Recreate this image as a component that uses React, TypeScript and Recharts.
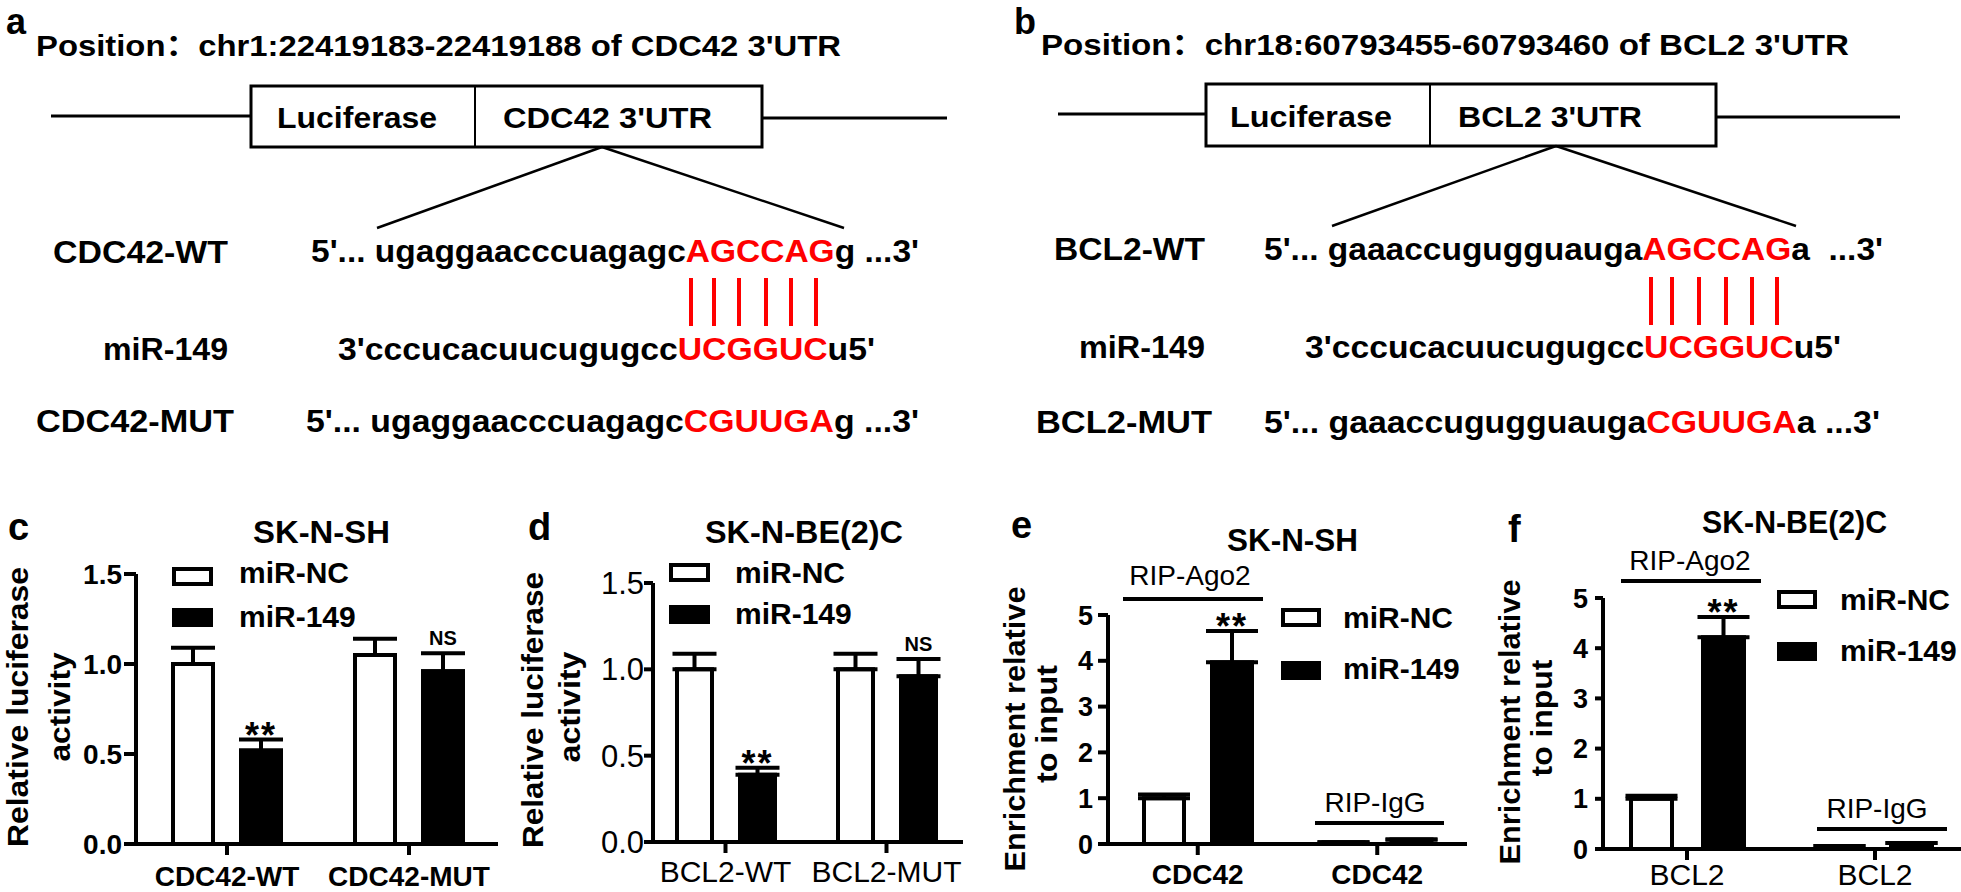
import React from "react";
import { BarChart, Bar, XAxis, YAxis, ErrorBar, LabelList } from "recharts";

const FONT = "'Liberation Sans', Arial, Helvetica, sans-serif";

// c: luciferase reporter, SK-N-SH
const cGroups = ["CDC42-WT", "CDC42-MUT"];
const cLabels = ["CDC42-WT", "CDC42-MUT"];
const cNC = [1.0, 1.05];
const cNCErr = [0.09, 0.09];
const cMiR = [0.52, 0.96];
const cMiRErr = [0.06, 0.1];
const cSig = ["**", "NS"];

// d: luciferase reporter, SK-N-BE(2)C
const dGroups = ["BCL2-WT", "BCL2-MUT"];
const dLabels = ["BCL2-WT", "BCL2-MUT"];
const dNC = [1.0, 1.0];
const dNCErr = [0.09, 0.09];
const dMiR = [0.39, 0.96];
const dMiRErr = [0.04, 0.1];
const dSig = ["**", "NS"];

// e: RIP, SK-N-SH
const eGroups = ["RIP-Ago2", "RIP-IgG"];
const eLabels = ["CDC42", "CDC42"];
const eNC = [1.0, 0.04];
const eNCErr = [0.08, 0];
const eMiR = [3.97, 0.1];
const eMiRErr = [0.68, 0];
const eSig = ["**", ""];

// f: RIP, SK-N-BE(2)C
const fGroups = ["RIP-Ago2", "RIP-IgG"];
const fLabels = ["BCL2", "BCL2"];
const fNC = [1.0, 0.06];
const fNCErr = [0.06, 0];
const fMiR = [4.22, 0.12];
const fMiRErr = [0.4, 0];
const fSig = ["**", ""];

const lucTicks = [0, 0.5, 1, 1.5];
const ripTicks = [0, 1, 2, 3, 4, 5];

const YW = 90;
const MT = 30;
const XH = 48;

type Fnt = { size: number; weight: number };

type PanelProps = {
  groups: string[];
  labels: string[];
  nc: number[];
  ncErr: number[];
  mir: number[];
  mirErr: number[];
  sig: string[];
  ticks: number[];
  decimals: number;
  plot: { x: number; y: number; w: number; h: number };
  mr: number;
  barSize: number;
  barGap: number;
  capW: number;
  padL: number;
  padR: number;
  yFont: Fnt;
  xFont: Fnt;
  yTick: number;
  yMargin: number;
  xMargin: number;
};

function Panel(p: PanelProps) {
  const rows = p.groups.map((g, i) => ({
    group: g,
    nc: p.nc[i],
    ncE: [0, p.ncErr[i]],
    mir: p.mir[i],
    mirE: [0, p.mirErr[i]],
    sig: p.sig[i],
  }));

  const renderSig = (props: any) => {
    const vb = props.viewBox && props.viewBox.width !== undefined ? props.viewBox : props;
    const { x, y, width, height } = vb;
    const i = props.index;
    const v = props.value;
    if (!v || i === undefined) return null;
    const per = Math.abs(height) / p.mir[i];
    const top = y - p.mirErr[i] * per;
    const star = v === "**";
    return (
      <text
        x={x + width / 2}
        y={star ? top + 8 : top - 8}
        textAnchor="middle"
        fontSize={star ? 36 : 20}
        fontWeight={700}
        fontFamily={FONT}
        letterSpacing={star ? 2 : 0}
        fill="#000"
      >
        {v}
      </text>
    );
  };

  const w = YW + p.plot.w + p.mr;
  const h = MT + p.plot.h + XH;
  return (
    <div style={{ position: "absolute", left: p.plot.x - YW, top: p.plot.y - MT, width: w, height: h }}>
      <BarChart
        width={w}
        height={h}
        data={rows}
        margin={{ top: MT, right: p.mr, left: 0, bottom: 0 }}
        barGap={p.barGap}
        barCategoryGap={0}
      >
        <XAxis
          dataKey="group"
          interval={0}
          height={XH}
          tickFormatter={(_v: any, i: number) => p.labels[i]}
          tick={{ fill: "#000", fontSize: p.xFont.size, fontWeight: p.xFont.weight, fontFamily: FONT }}
          tickSize={11}
          tickMargin={p.xMargin}
          axisLine={{ stroke: "#000", strokeWidth: 4 }}
          tickLine={{ stroke: "#000", strokeWidth: 4 }}
          padding={{ left: p.padL, right: p.padR }}
        />
        <YAxis
          type="number"
          width={YW}
          domain={[0, p.ticks[p.ticks.length - 1]]}
          ticks={p.ticks}
          interval={0}
          tickFormatter={(v: number) => v.toFixed(p.decimals)}
          tick={{ fill: "#000", fontSize: p.yFont.size, fontWeight: p.yFont.weight, fontFamily: FONT }}
          tickSize={p.yTick}
          tickMargin={p.yMargin}
          axisLine={{ stroke: "#000", strokeWidth: 4 }}
          tickLine={{ stroke: "#000", strokeWidth: 4 }}
        />
        <Bar dataKey="nc" fill="#fff" stroke="#000" strokeWidth={4} barSize={p.barSize} isAnimationActive={false}>
          <ErrorBar dataKey="ncE" width={p.capW} stroke="#000" strokeWidth={4} direction="y" />
        </Bar>
        <Bar dataKey="mir" fill="#000" stroke="#000" strokeWidth={4} barSize={p.barSize} isAnimationActive={false}>
          <ErrorBar dataKey="mirE" width={p.capW} stroke="#000" strokeWidth={4} direction="y" />
          <LabelList dataKey="sig" content={renderSig} />
        </Bar>
      </BarChart>
    </div>
  );
}

type TProps = {
  x: number;
  y: number;
  len?: number;
  size: number;
  weight?: number;
  anchor?: "start" | "middle" | "end";
  rotate?: boolean;
  children: React.ReactNode;
};

function T({ x, y, len, size, weight = 700, anchor = "start", rotate, children }: TProps) {
  return (
    <text
      x={x}
      y={y}
      fontSize={size}
      fontWeight={weight}
      fontFamily={FONT}
      textAnchor={anchor}
      textLength={len}
      lengthAdjust={len ? "spacingAndGlyphs" : undefined}
      transform={rotate ? `rotate(-90 ${x} ${y})` : undefined}
      fill="#000"
      style={{ whiteSpace: "pre" }}
    >
      {children}
    </text>
  );
}

const RED = "#ff0000";

function Seq({ x, y, len, pre, red, post }: { x: number; y: number; len: number; pre: string; red: string; post: string }) {
  return (
    <T x={x} y={y} len={len} size={32}>
      <tspan>{pre}</tspan>
      <tspan fill={RED}>{red}</tspan>
      <tspan>{post}</tspan>
    </T>
  );
}

function Construct(props: {
  letter: string;
  lx: number;
  pos: string;
  px: number;
  py: number;
  plen: number;
  box: { x: number; y: number; w: number; h: number; div: number };
  lineL: [number, number, number];
  lineR: [number, number, number];
  luc: [number, number];
  utr: string;
  utrX: number;
  utrLen: number;
  textY: number;
  apex: [number, number];
  feetX: [number, number];
  feetY: number;
}) {
  const b = props.box;
  return (
    <g>
      <T x={props.lx} y={34} size={36}>{props.letter}</T>
      <T x={props.px} y={props.py} len={props.plen} size={29}>
        <tspan>Position</tspan>
        <tspan fontFamily="'Noto Sans CJK SC', 'Noto Sans CJK JP', sans-serif">：</tspan>
        <tspan>{props.pos}</tspan>
      </T>
      <line x1={props.lineL[0]} y1={props.lineL[2]} x2={props.lineL[1]} y2={props.lineL[2]} stroke="#000" strokeWidth={3} />
      <line x1={props.lineR[0]} y1={props.lineR[2]} x2={props.lineR[1]} y2={props.lineR[2]} stroke="#000" strokeWidth={3} />
      <rect x={b.x} y={b.y} width={b.w} height={b.h} fill="#fff" stroke="#000" strokeWidth={3} />
      <line x1={b.div} y1={b.y} x2={b.div} y2={b.y + b.h} stroke="#000" strokeWidth={2} />
      <T x={props.luc[0]} y={props.textY} len={props.luc[1]} size={29}>Luciferase</T>
      <T x={props.utrX} y={props.textY} len={props.utrLen} size={29}>{props.utr}</T>
      <line x1={props.apex[0]} y1={props.apex[1]} x2={props.feetX[0]} y2={props.feetY} stroke="#000" strokeWidth={2.5} />
      <line x1={props.apex[0]} y1={props.apex[1]} x2={props.feetX[1]} y2={props.feetY} stroke="#000" strokeWidth={2.5} />
    </g>
  );
}

function PairLines({ xs, y1, y2 }: { xs: number[]; y1: number; y2: number }) {
  return (
    <g>
      {xs.map((x) => (
        <line key={x} x1={x} y1={y1} x2={x} y2={y2} stroke={RED} strokeWidth={4} />
      ))}
    </g>
  );
}

function LegendBox({ x, y1, y2, w, h, textX, base1, base2 }: { x: number; y1: number; y2: number; w: number; h: number; textX: number; base1: number; base2: number }) {
  return (
    <g>
      <rect x={x + 2} y={y1 + 2} width={w - 4} height={h - 4} fill="#fff" stroke="#000" strokeWidth={4} />
      <rect x={x} y={y2} width={w} height={h} fill="#000" />
      <T x={textX} y={base1} size={30}>miR-NC</T>
      <T x={textX} y={base2} size={30}>miR-149</T>
    </g>
  );
}

function Bracket({ x1, x2, y, cx, base, label }: { x1: number; x2: number; y: number; cx: number; base: number; label: string }) {
  return (
    <g>
      <line x1={x1} y1={y} x2={x2} y2={y} stroke="#000" strokeWidth={4} />
      <T x={cx} y={base} size={28} weight={400} anchor="middle">{label}</T>
    </g>
  );
}

export default function App() {
  return (
    <div
      style={{
        position: "absolute",
        left: 0,
        top: 0,
        width: 1961,
        height: 892,
        background: "#fff",
        overflow: "hidden",
        fontFamily: FONT,
      }}
    >
      <svg width={1961} height={470} style={{ position: "absolute", left: 0, top: 0 }}>
        <Construct
          letter="a"
          lx={6}
          pos="chr1:22419183-22419188 of CDC42 3'UTR"
          px={36}
          py={56}
          plen={805}
          box={{ x: 251, y: 86, w: 511, h: 61, div: 475 }}
          lineL={[51, 251, 116]}
          lineR={[762, 947, 118]}
          luc={[277, 160]}
          utr="CDC42 3'UTR"
          utrX={503}
          utrLen={209}
          textY={128}
          apex={[602, 147]}
          feetX={[377, 844]}
          feetY={228}
        />
        <T x={228} y={263} len={175} size={31} anchor="end">CDC42-WT</T>
        <Seq x={311} y={262} len={608} pre="5'... ugaggaacccuagagc" red="AGCCAG" post="g ...3'" />
        <PairLines xs={[691, 714, 739, 766, 791, 816]} y1={278} y2={326} />
        <T x={228} y={360} len={125} size={31} anchor="end">miR-149</T>
        <Seq x={338} y={360} len={537} pre="3'cccucacuucugugcc" red="UCGGUC" post="u5'" />
        <T x={234} y={432} len={198} size={31} anchor="end">CDC42-MUT</T>
        <Seq x={306} y={432} len={613} pre="5'... ugaggaacccuagagc" red="CGUUGA" post="g ...3'" />

        <Construct
          letter="b"
          lx={1014}
          pos="chr18:60793455-60793460 of BCL2 3'UTR"
          px={1041}
          py={55}
          plen={808}
          box={{ x: 1206, y: 84, w: 510, h: 62, div: 1430 }}
          lineL={[1058, 1206, 114]}
          lineR={[1716, 1900, 117]}
          luc={[1230, 162]}
          utr="BCL2 3'UTR"
          utrX={1458}
          utrLen={184}
          textY={127}
          apex={[1556, 146]}
          feetX={[1332, 1796]}
          feetY={226}
        />
        <T x={1205} y={260} len={151} size={31} anchor="end">BCL2-WT</T>
        <Seq x={1264} y={260} len={619} pre="5'... gaaaccugugguauga" red="AGCCAG" post="a  ...3'" />
        <PairLines xs={[1651, 1672, 1699, 1726, 1752, 1777]} y1={277} y2={325} />
        <T x={1205} y={358} len={126} size={31} anchor="end">miR-149</T>
        <Seq x={1305} y={358} len={536} pre="3'cccucacuucugugcc" red="UCGGUC" post="u5'" />
        <T x={1212} y={433} len={176} size={31} anchor="end">BCL2-MUT</T>
        <Seq x={1264} y={433} len={616} pre="5'... gaaaccugugguauga" red="CGUUGA" post="a ...3'" />
      </svg>

      <Panel
        groups={cGroups} labels={cLabels} nc={cNC} ncErr={cNCErr} mir={cMiR} mirErr={cMiRErr} sig={cSig}
        ticks={lucTicks} decimals={1}
        plot={{ x: 136, y: 574, w: 362, h: 270 }} mr={10}
        barSize={40} barGap={28} capW={22} padL={0} padR={-2}
        yFont={{ size: 28, weight: 700 }} xFont={{ size: 28, weight: 700 }}
        yTick={12} yMargin={2} xMargin={11}
      />
      <Panel
        groups={dGroups} labels={dLabels} nc={dNC} ncErr={dNCErr} mir={dMiR} mirErr={dMiRErr} sig={dSig}
        ticks={lucTicks} decimals={1}
        plot={{ x: 653, y: 583, w: 310, h: 259 }} mr={10}
        barSize={35} barGap={28} capW={22} padL={-8} padR={-4}
        yFont={{ size: 31, weight: 400 }} xFont={{ size: 30, weight: 400 }}
        yTick={9} yMargin={0} xMargin={8}
      />
      <Panel
        groups={eGroups} labels={eLabels} nc={eNC} ncErr={eNCErr} mir={eMiR} mirErr={eMiRErr} sig={eSig}
        ticks={ripTicks} decimals={0}
        plot={{ x: 1108, y: 615, w: 359, h: 229 }} mr={10}
        barSize={40} barGap={28} capW={26} padL={0} padR={0}
        yFont={{ size: 27, weight: 700 }} xFont={{ size: 28, weight: 700 }}
        yTick={10} yMargin={5} xMargin={9}
      />
      <Panel
        groups={fGroups} labels={fLabels} nc={fNC} ncErr={fNCErr} mir={fMiR} mirErr={fMiRErr} sig={fSig}
        ticks={ripTicks} decimals={0}
        plot={{ x: 1603, y: 598, w: 358, h: 251 }} mr={0}
        barSize={41} barGap={31} capW={26} padL={-10} padR={-8}
        yFont={{ size: 27, weight: 700 }} xFont={{ size: 30, weight: 400 }}
        yTick={8} yMargin={7} xMargin={4}
      />

      <svg width={1961} height={892} style={{ position: "absolute", left: 0, top: 0, pointerEvents: "none" }}>
        <T x={8} y={540} size={38}>c</T>
        <T x={528} y={540} size={38}>d</T>
        <T x={1011} y={538} size={38}>e</T>
        <T x={1508} y={542} size={38}>f</T>

        <T x={321.5} y={543} len={137} size={31} anchor="middle">SK-N-SH</T>
        <T x={804} y={543} len={198} size={31} anchor="middle">SK-N-BE(2)C</T>
        <T x={1292.5} y={551} len={131} size={31} anchor="middle">SK-N-SH</T>
        <T x={1794.5} y={533} len={185} size={31} anchor="middle">SK-N-BE(2)C</T>

        <T x={28} y={707} len={280} size={30} anchor="middle" rotate>Relative luciferase</T>
        <T x={70} y={707} len={109} size={30} anchor="middle" rotate>activity</T>
        <T x={543} y={710} len={276} size={30} anchor="middle" rotate>Relative luciferase</T>
        <T x={580} y={707} len={111} size={30} anchor="middle" rotate>activity</T>
        <T x={1025} y={729} len={285} size={30} anchor="middle" rotate>Enrichment relative</T>
        <T x={1057} y={724} len={118} size={30} anchor="middle" rotate>to input</T>
        <T x={1520} y={722} len={285} size={30} anchor="middle" rotate>Enrichment relative</T>
        <T x={1552} y={718} len={117} size={30} anchor="middle" rotate>to input</T>

        <LegendBox x={172} y1={567} y2={608} w={41} h={19} textX={239} base1={583} base2={627} />
        <LegendBox x={669} y1={563} y2={605} w={41} h={19} textX={735} base1={583} base2={624} />
        <LegendBox x={1281} y1={608} y2={661} w={40} h={19} textX={1343} base1={628} base2={679} />
        <LegendBox x={1777} y1={590} y2={642} w={40} h={19} textX={1840} base1={610} base2={661} />

        <Bracket x1={1123} x2={1263} y={599} cx={1190} base={585} label="RIP-Ago2" />
        <Bracket x1={1315} x2={1444} y={823} cx={1375} base={812} label="RIP-IgG" />
        <Bracket x1={1621} x2={1761} y={581} cx={1690} base={570} label="RIP-Ago2" />
        <Bracket x1={1817} x2={1947} y={829} cx={1877} base={818} label="RIP-IgG" />
      </svg>
    </div>
  );
}
